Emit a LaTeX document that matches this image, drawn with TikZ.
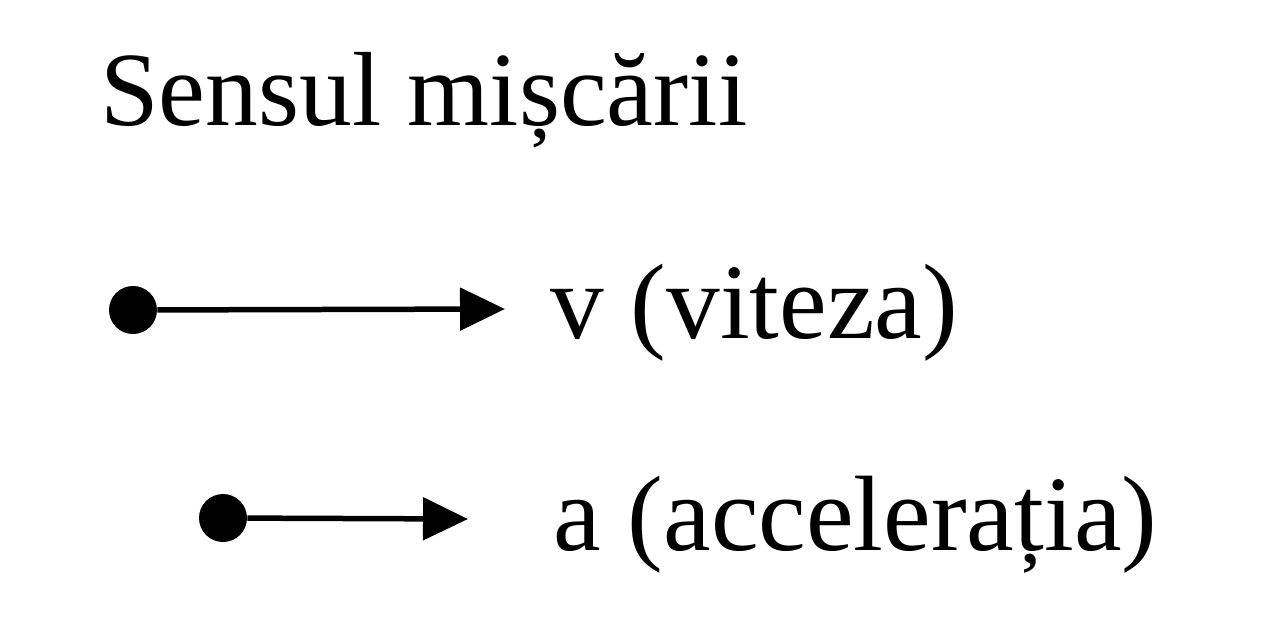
\documentclass[tikz,border=0pt]{standalone}
\usepackage{fontspec}
\setmainfont{Liberation Serif}
\usepackage{tikz}
\usetikzlibrary{positioning,arrows.meta}

\begin{document}
\begin{tikzpicture}[x=0.02cm, y=-0.02cm,
  dotnode/.style={circle, fill=black, inner sep=0pt, minimum size=0.96cm},
  labelnode/.style={anchor=base west, inner sep=0pt, font=\fontsize{61}{70}\selectfont},
  vecarrow/.style={line width=0.11cm, -{Triangle[length=0.9cm, width=0.84cm]}}]
\useasboundingbox (0,0) rectangle (1280,629);

\node[anchor=base west, inner sep=0pt, font=\fontsize{60}{66}\selectfont] at (100,125) (title) {Sensul mișcării};

\node[dotnode] at (133,310) (dotv) {};
\coordinate (tipv) at (505,309);
\draw[vecarrow] (dotv) -- (tipv);
\node[labelnode] at (550,338) (labv) {v (viteza)};

\node[dotnode] at (223,518) (dota) {};
\coordinate (tipa) at (468,519);
\draw[vecarrow] (dota) -- (tipa);
\node[labelnode] at (553,550) (laba) {a (accelerația)};

\end{tikzpicture}
\end{document}
